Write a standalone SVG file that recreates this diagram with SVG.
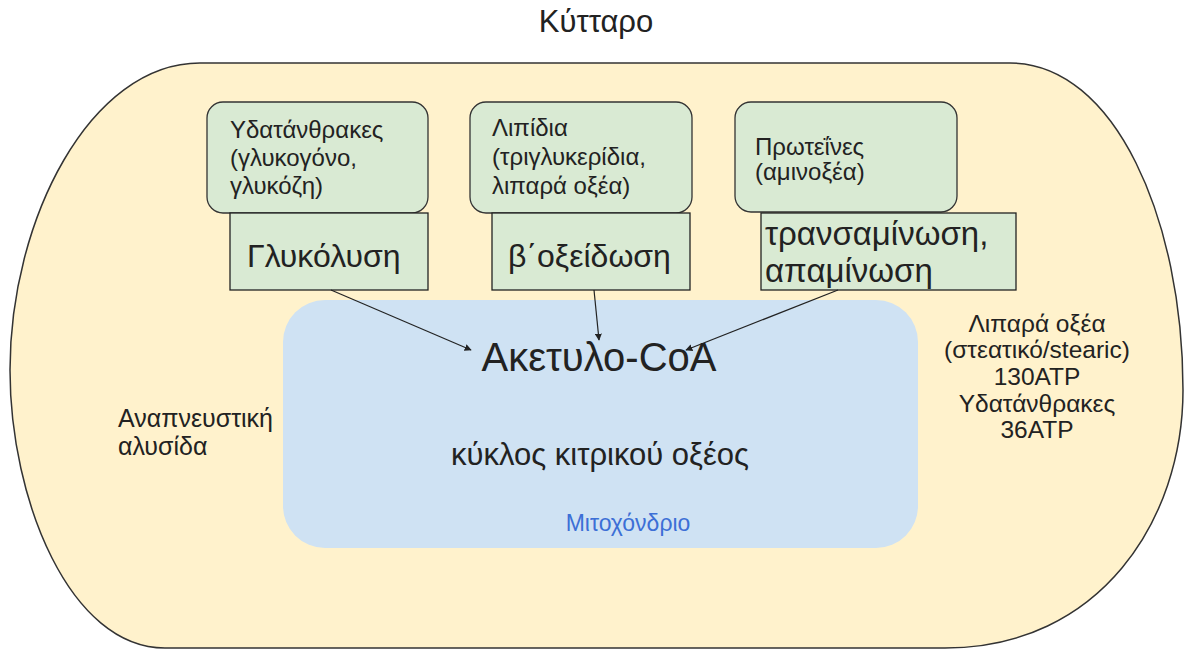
<svg xmlns="http://www.w3.org/2000/svg" width="1185" height="650" viewBox="0 0 1185 650">
<defs>
<style>
text{font-family:"Liberation Sans",Arial,"DejaVu Sans",sans-serif;fill:#222}
.src{fill:#d9ead3;stroke:#333;stroke-width:1.3}
.proc{fill:#d9ead3;stroke:#222;stroke-width:1.3}
.sm{font-size:24px}
.big{font-size:32px}
.conn{stroke:#222;stroke-width:1.2;fill:none}
</style>
<marker id="ah" viewBox="0 0 10 10" refX="9" refY="5" markerWidth="7" markerHeight="7" orient="auto" markerUnits="userSpaceOnUse">
<path d="M0,0 L10,5 L0,10 z" fill="#222"/>
</marker>
</defs>
<rect width="1185" height="650" fill="#ffffff"/>
<g id="cell">
<path d="M 200,63 L 1010,63 C 1115,63 1183,220 1183,390 C 1183,520 1100,648 945,648 L 165,648 C 70,648 10,500 10,370 C 10,220 90,63 200,63 Z" fill="#fff2cc" stroke="#333" stroke-width="1.5"/>
<text x="596" y="32" text-anchor="middle" font-size="31">Κύτταρο</text>
</g>
<g id="mito">
<rect x="283" y="300" width="635" height="248" rx="42" fill="#cfe2f3"/>
<text x="599" y="371" text-anchor="middle" font-size="40">Ακετυλο-CoA</text>
<text x="600" y="465" text-anchor="middle" font-size="31">κύκλος κιτρικού οξέος</text>
<text x="628" y="531" text-anchor="middle" font-size="23" style="fill:#3c6fd6">Μιτοχόνδριο</text>
</g>
<g id="carbs">
<rect class="src" x="207" y="102" width="221" height="111" rx="16"/>
<text class="sm" x="230" y="138">Υδατάνθρακες</text>
<text class="sm" x="230" y="166">(γλυκογόνο,</text>
<text class="sm" x="230" y="194">γλυκόζη)</text>
</g>
<g id="glycolysis">
<rect class="proc" x="230" y="213" width="198" height="77"/>
<text class="big" x="247" y="267">Γλυκόλυση</text>
</g>
<g id="lipids">
<rect class="src" x="470" y="102" width="222" height="111" rx="16"/>
<text class="sm" x="492" y="136">Λιπίδια</text>
<text class="sm" x="492" y="165">(τριγλυκερίδια,</text>
<text class="sm" x="492" y="194">λιπαρά οξέα)</text>
</g>
<g id="beta">
<rect class="proc" x="492" y="213" width="198" height="77"/>
<text class="big" x="508" y="267">β΄οξείδωση</text>
</g>
<g id="proteins">
<rect class="src" x="735" y="102" width="222" height="110" rx="16"/>
<text class="sm" x="755" y="155">Πρωτεΐνες</text>
<text class="sm" x="755" y="180">(αμινοξέα)</text>
</g>
<g id="transamination">
<rect class="proc" x="761" y="213" width="255" height="77"/>
<text x="765" y="245" font-size="33">τρανσαμίνωση,</text>
<text x="765" y="282" font-size="33">απαμίνωση</text>
</g>
<g id="resp">
<text x="118" y="427" font-size="25">Αναπνευστική</text>
<text x="118" y="455" font-size="25">αλυσίδα</text>
</g>
<g id="atp" text-anchor="middle" font-size="24.5">
<text x="1037" y="332">Λιπαρά οξέα</text>
<text x="1037" y="358">(στεατικό/stearic)</text>
<text x="1037" y="385">130ATP</text>
<text x="1037" y="412">Υδατάνθρακες</text>
<text x="1037" y="438">36ATP</text>
</g>
<g id="connectors">
<line class="conn" x1="331" y1="290" x2="471" y2="350" marker-end="url(#ah)"/>
<line class="conn" x1="594" y1="290" x2="599" y2="340" marker-end="url(#ah)"/>
<line class="conn" x1="838" y1="290" x2="686" y2="350" marker-end="url(#ah)"/>
</g>
</svg>
